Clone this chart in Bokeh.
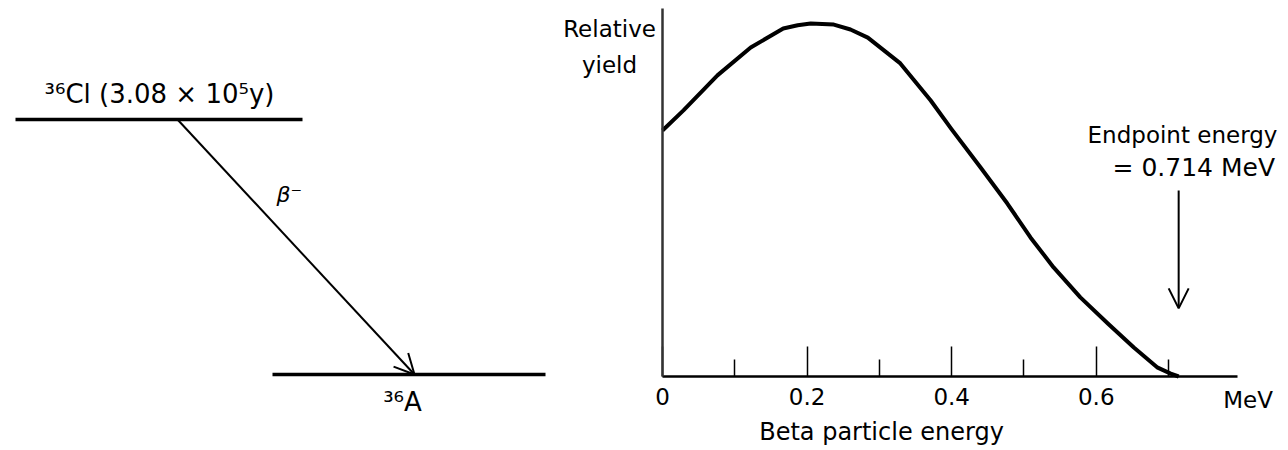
from bokeh.plotting import figure
from bokeh.layouts import row
from bokeh.models import Range1d, FixedTicker, Arrow, OpenHead, LinearAxis
from bokeh.core.properties import value
from bokeh.embed import file_html
from bokeh.resources import INLINE

# ---------------- data ----------------
# beta spectrum of 36Cl
energy_mev = [0.0, 0.029, 0.076, 0.122, 0.167, 0.187, 0.205, 0.237, 0.26, 0.284, 0.329, 0.371,
              0.40, 0.44, 0.477, 0.509, 0.541, 0.578, 0.616, 0.652, 0.685, 0.703, 0.714]
relative_yield = [0.697, 0.754, 0.853, 0.932, 0.986, 0.995, 1.0, 0.997, 0.983, 0.960, 0.887, 0.782,
                  0.700, 0.592, 0.490, 0.394, 0.309, 0.224, 0.150, 0.082, 0.025, 0.008, 0.0]
major_ticks = [0, 0.2, 0.4, 0.6]
major_tick_labels = ["0", "0.2", "0.4", "0.6"]
minor_ticks = [0.1, 0.3, 0.5, 0.7]
endpoint_mev = 0.714

# decay scheme
level_labels = ["\u00b3\u2076Cl (3.08 \u00d7 10\u2075y)", "\u00b3\u2076A"]
level_energy = [0.714, 0.0]
decay_label = "\u03b2\u207b"

FONT = "DejaVu Sans"
DY = -9  # baseline correction for svg text

# ---------------- left: decay scheme ----------------
p1 = figure(width=560, height=448, x_range=Range1d(0, 560), y_range=Range1d(-0.2072, 1.0472),
            output_backend="svg", toolbar_location=None, min_border=0,
            x_axis_location=None, y_axis_location=None)
p1.grid.visible = False
p1.outline_line_color = None

p1.segment(x0=[15, 272], y0=level_energy, x1=[302, 545], y1=level_energy,
           line_width=3.5, line_color="black")
p1.add_layout(Arrow(end=OpenHead(size=20, line_width=2, line_color="black"),
                    x_start=177, y_start=level_energy[0], x_end=414, y_end=level_energy[1],
                    line_width=2, line_color="black"))
p1.text(x=[159, 402], y=[level_energy[0] + 0.045, level_energy[1] - 0.101], text=level_labels,
        text_align="center", text_baseline="alphabetic", text_font=value(FONT),
        text_font_size="26px", text_color="black", y_offset=DY)
p1.text(x=[276], y=[0.487], text=[decay_label], text_align="left", text_baseline="alphabetic",
        text_font=value(FONT), text_font_style="italic", text_font_size="22px", text_color="black",
        y_offset=DY + 3)

# ---------------- right: beta spectrum ----------------
p2 = figure(width=724, height=448, x_range=Range1d(-0.1411, 0.8604), y_range=Range1d(-0.204, 1.0652),
            output_backend="svg", toolbar_location=None, min_border=0,
            x_axis_location=None, y_axis_location=None)
p2.grid.visible = False
p2.outline_line_color = None

xa = LinearAxis(fixed_location=0,
                ticker=FixedTicker(ticks=major_ticks, minor_ticks=minor_ticks),
                major_label_overrides={t: s for t, s in zip(major_ticks, major_tick_labels)},
                bounds=(0, 0.795),
                axis_line_width=2.5, axis_line_color="black",
                major_tick_in=30, major_tick_out=0, minor_tick_in=17, minor_tick_out=0,
                major_tick_line_width=1.5, minor_tick_line_width=1.5,
                major_tick_line_color="black", minor_tick_line_color="black",
                major_label_text_font=FONT, major_label_text_font_size="23px",
                major_label_text_color="black", major_label_standoff=12)
p2.add_layout(xa, "below")

ya = LinearAxis(fixed_location=0, ticker=FixedTicker(ticks=[]), bounds=(0, 1.0425),
                axis_line_width=2.5, axis_line_color="#333333",
                major_tick_in=0, major_tick_out=0, minor_tick_in=0, minor_tick_out=0,
                major_label_text_font_size="0px")
p2.add_layout(ya, "left")

p2.line(energy_mev, relative_yield, line_width=4, line_color="black", line_join="round")

p2.text(x=[-0.0733, -0.0733], y=[0.960, 0.858], text=["Relative", "yield"],
        text_align="center", text_baseline="alphabetic", text_font=value(FONT),
        text_font_size="23px", text_color="black", y_offset=DY)
p2.text(x=[0.588], y=[0.660], text=["Endpoint energy"],
        text_align="left", text_baseline="alphabetic", text_font=value(FONT),
        text_font_size="23px", text_color="black", y_offset=DY)
p2.text(x=[0.6225], y=[0.567], text=["= %s MeV" % endpoint_mev],
        text_align="left", text_baseline="alphabetic", text_font=value(FONT),
        text_font_size="25px", text_color="black", y_offset=DY)
p2.add_layout(Arrow(end=OpenHead(size=20, line_width=2, line_color="black"),
                    x_start=endpoint_mev, y_start=0.527, x_end=endpoint_mev, y_end=0.193,
                    line_width=2, line_color="black"))

p2.text(x=[0.81], y=[-0.0907], text=["MeV"], text_align="center",
        text_baseline="alphabetic", text_font=value(FONT), text_font_size="23px",
        text_color="black", y_offset=DY)
p2.text(x=[0.303], y=[-0.184], text=["Beta particle energy"], text_align="center",
        text_baseline="alphabetic", text_font=value(FONT), text_font_size="24px",
        text_color="black", y_offset=DY)

layout = row(p1, p2)
open("out.html", "w").write(file_html(layout, INLINE))
